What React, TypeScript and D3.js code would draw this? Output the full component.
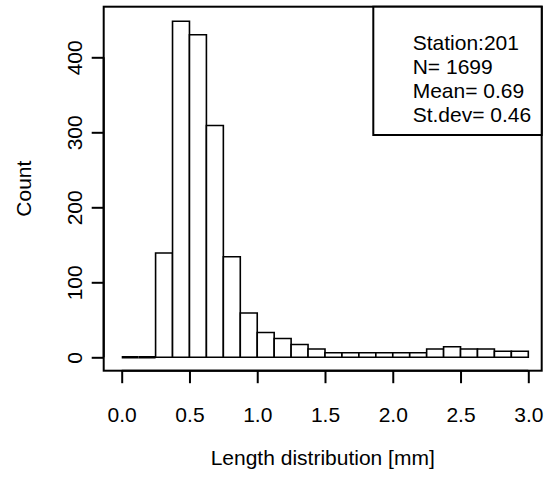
import { useEffect, useRef } from 'react';
import * as d3 from 'd3';

// histogram bins (mm) and counts
const binEdges = [
  0, 0.125, 0.25, 0.375, 0.5, 0.625, 0.75, 0.875, 1.0, 1.125, 1.25, 1.375, 1.5,
  1.625, 1.75, 1.875, 2.0, 2.125, 2.25, 2.375, 2.5, 2.625, 2.75, 2.875, 3.0,
];
const counts = [
  0, 0, 139, 448, 430, 309, 134, 59, 33, 25, 17, 11, 6, 6, 6, 6, 6, 6, 11, 14, 11, 11, 8, 8,
];
const xTicks = [0, 0.5, 1.0, 1.5, 2.0, 2.5, 3.0];
const yTicks = [0, 100, 200, 300, 400];
const legendLines = ['Station:201', 'N= 1699', 'Mean= 0.69', 'St.dev= 0.46'];

const W = 546;
const H = 481;
const FONT = 'Liberation Sans, Arial, Helvetica, sans-serif';

function App() {
  const svgRef = useRef<SVGSVGElement>(null);

  useEffect(() => {
    document.body.style.margin = '0';
    const svg = d3.select(svgRef.current);
    svg.selectAll('*').remove();

    // plot box edges
    const box = { left: 103.7, right: 541.7, top: 6.7, bottom: 370.7 };

    const x = d3.scaleLinear().domain([0, 3]).range([121.7, 528.3]);
    const y = d3.scaleLinear().domain([0, 400]).range([357.3, 57.3]);

    const bins = counts.map((c, i) => ({ x0: binEdges[i], x1: binEdges[i + 1], count: c }));

    // bars as closed paths so empty bins still show as a line on zero
    svg
      .append('g')
      .selectAll('path')
      .data(bins)
      .enter()
      .append('path')
      .attr('d', (d) => {
        const p = d3.path();
        p.moveTo(x(d.x0), y(0));
        p.lineTo(x(d.x0), y(d.count));
        p.lineTo(x(d.x1), y(d.count));
        p.lineTo(x(d.x1), y(0));
        p.closePath();
        return p.toString();
      })
      .attr('fill', 'white')
      .attr('stroke', 'black')
      .attr('stroke-width', (d) => (d.count === 0 ? 2.6 : 1.6));

    // box
    svg
      .append('rect')
      .attr('x', box.left)
      .attr('y', box.top)
      .attr('width', box.right - box.left)
      .attr('height', box.bottom - box.top)
      .attr('fill', 'none')
      .attr('stroke', 'black')
      .attr('stroke-width', 2);

    // x axis
    const xAxis = d3
      .axisBottom(x)
      .tickValues(xTicks)
      .tickFormat((d) => d3.format('.1f')(d as number))
      .tickSize(12.5);
    const gx = svg.append('g').attr('transform', `translate(0,${box.bottom})`).call(xAxis);
    gx.select('.domain').attr('d', `M${x(0)},0H${x(3)}`).attr('stroke-width', 2);
    gx.selectAll('.tick line').attr('stroke-width', 2);
    gx.selectAll('.tick text')
      .attr('y', 51)
      .attr('dy', 0)
      .style('font-family', FONT)
      .style('font-size', '21px')
      .attr('fill', 'black');

    // y axis
    const yAxis = d3.axisLeft(y).tickValues(yTicks).tickSize(12);
    const gy = svg.append('g').attr('transform', `translate(${box.left},0)`).call(yAxis);
    gy.select('.domain').attr('d', `M0,${y(0)}V${y(400)}`).attr('stroke-width', 2);
    gy.selectAll('.tick line').attr('stroke-width', 2);
    gy.selectAll('.tick text')
      .attr('x', 0)
      .attr('dy', 0)
      .attr('transform', 'translate(-22,0) rotate(-90)')
      .attr('text-anchor', 'middle')
      .style('font-family', FONT)
      .style('font-size', '21px')
      .attr('fill', 'black');

    // axis titles
    svg
      .append('text')
      .attr('x', (box.left + box.right) / 2)
      .attr('y', 465)
      .attr('text-anchor', 'middle')
      .style('font-family', FONT)
      .style('font-size', '21px')
      .text('Length distribution [mm]');

    svg
      .append('text')
      .attr('transform', `translate(31,${(box.top + box.bottom) / 2}) rotate(-90)`)
      .attr('text-anchor', 'middle')
      .style('font-family', FONT)
      .style('font-size', '21px')
      .text('Count');

    // legend
    svg
      .append('rect')
      .attr('x', 373.3)
      .attr('y', box.top)
      .attr('width', box.right - 373.3)
      .attr('height', 135 - box.top)
      .attr('fill', 'white')
      .attr('stroke', 'black')
      .attr('stroke-width', 2);

    svg
      .append('g')
      .selectAll('text')
      .data(legendLines)
      .enter()
      .append('text')
      .attr('x', 412.7)
      .attr('y', (d, i) => 49.5 + i * 24.1)
      .style('font-family', FONT)
      .style('font-size', '21px')
      .text((d) => d);
  }, []);

  return (
    <svg
      ref={svgRef}
      width={W}
      height={H}
      style={{ display: 'block', background: 'white' }}
    ></svg>
  );
}

export default App;
